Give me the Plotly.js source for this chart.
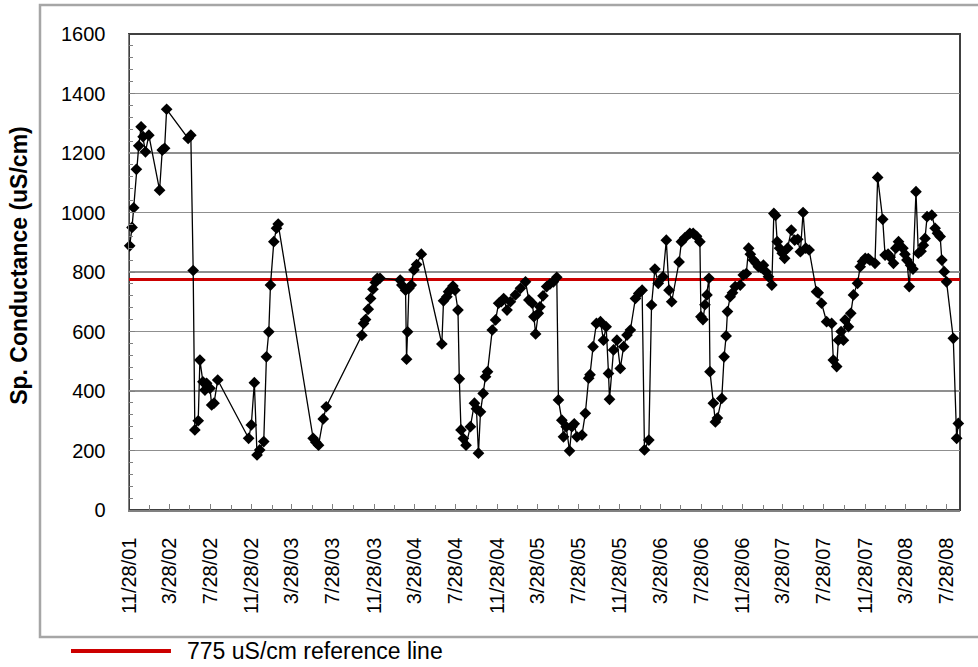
<!DOCTYPE html>
<html>
<head>
<meta charset="utf-8">
<script src="https://cdn.plot.ly/plotly-3.0.1.min.js"></script>
<style>
html,body{margin:0;padding:0;background:#fff;}
#chart{width:978px;height:667px;}
</style>
</head>
<body>
<div id="chart"></div>
<script>
const sampleDates = [
'2001-11-30','2001-12-07','2001-12-12','2001-12-20','2001-12-27','2002-01-03','2002-01-09','2002-01-16','2002-01-26','2002-02-27',
'2002-03-07','2002-03-14','2002-03-20','2002-05-23','2002-05-31','2002-06-07','2002-06-12','2002-06-22','2002-06-27','2002-07-06',
'2002-07-12','2002-07-17','2002-07-27','2002-08-01','2002-08-08','2002-08-19','2002-11-19','2002-11-27','2002-12-06','2002-12-14',
'2002-12-22','2003-01-03','2003-01-11','2003-01-18','2003-01-23','2003-02-02','2003-02-10','2003-02-15','2003-05-30','2003-06-07',
'2003-06-15','2003-06-29','2003-07-08','2003-10-22','2003-10-27','2003-11-02','2003-11-10','2003-11-17','2003-11-24','2003-12-01',
'2003-12-07','2003-12-15','2004-02-13','2004-02-18','2004-02-29','2004-03-03','2004-03-06','2004-03-10','2004-03-17','2004-03-25',
'2004-04-02','2004-04-16','2004-06-16','2004-06-21','2004-07-01','2004-07-06','2004-07-13','2004-07-19','2004-07-25','2004-08-03',
'2004-08-07','2004-08-12','2004-08-19','2004-08-27','2004-09-09','2004-09-21','2004-09-27','2004-10-03','2004-10-09','2004-10-17',
'2004-10-24','2004-10-30','2004-11-13','2004-11-23','2004-12-02','2004-12-10','2004-12-17','2004-12-27','2005-01-06','2005-01-21',
'2005-02-05','2005-02-20','2005-03-02','2005-03-12','2005-03-17','2005-03-22','2005-03-30','2005-04-04','2005-04-13','2005-04-24',
'2005-05-04','2005-05-14','2005-05-24','2005-05-29','2005-06-08','2005-06-13','2005-06-21','2005-07-01','2005-07-08','2005-07-15',
'2005-07-23','2005-08-07','2005-08-17','2005-08-27','2005-08-31','2005-09-09','2005-09-19','2005-10-01','2005-10-10','2005-10-18',
'2005-10-25','2005-10-28','2005-11-09','2005-11-19','2005-11-29','2005-12-09','2005-12-19','2005-12-29','2006-01-13','2006-01-23',
'2006-02-02','2006-02-09','2006-02-22','2006-03-02','2006-03-12','2006-03-22','2006-04-05','2006-04-15','2006-04-23','2006-05-01',
'2006-05-23','2006-05-30','2006-06-09','2006-06-24','2006-07-04','2006-07-14','2006-07-24','2006-07-27','2006-08-02','2006-08-08',
'2006-08-14','2006-08-20','2006-08-23','2006-09-02','2006-09-08','2006-09-14','2006-09-27','2006-10-04','2006-10-10','2006-10-14',
'2006-10-22','2006-10-29','2006-11-06','2006-11-21','2006-11-30','2006-12-09','2006-12-16','2006-12-21','2006-12-30','2007-01-07',
'2007-01-14','2007-01-22','2007-01-29','2007-02-06','2007-02-13','2007-02-23','2007-03-01','2007-03-06','2007-03-11','2007-03-18',
'2007-03-26','2007-04-02','2007-04-11','2007-04-22','2007-05-02','2007-05-11','2007-05-19','2007-05-27','2007-06-04','2007-06-14',
'2007-07-06','2007-07-11','2007-07-21','2007-08-05','2007-08-20','2007-08-25','2007-09-04','2007-09-09','2007-09-17','2007-09-24',
'2007-09-29','2007-10-09','2007-10-16','2007-10-24','2007-11-05','2007-11-13','2007-11-20','2007-11-28','2007-12-07','2007-12-12',
'2007-12-27','2008-01-04','2008-01-19','2008-01-26','2008-02-04','2008-02-10','2008-02-20','2008-02-27','2008-03-06','2008-03-19',
'2008-03-25','2008-03-31','2008-04-07','2008-04-11','2008-04-18','2008-04-27','2008-05-04','2008-05-12','2008-05-19','2008-05-24',
'2008-05-30','2008-06-13','2008-06-23','2008-06-30','2008-07-08','2008-07-13','2008-07-20','2008-07-27','2008-08-16','2008-08-26',
'2008-08-31'
];

const conductance = [
888,950,1016,1145,1224,1288,1255,1204,1260,1075,
1210,1216,1347,1249,1260,805,269,300,504,431,
403,426,409,353,359,437,241,286,428,185,
202,230,515,599,756,902,947,961,241,228,
218,306,347,587,627,640,675,711,742,765,
779,779,773,756,739,507,599,745,756,807,
825,860,558,703,717,734,742,753,739,672,
441,269,240,218,280,359,340,191,330,392,
448,465,605,639,695,700,711,672,700,723,
745,767,706,695,650,592,661,683,720,751,
760,767,782,370,302,246,280,199,280,290,
246,252,325,443,455,549,627,633,571,616,
459,372,538,571,476,549,588,605,711,728,
739,202,235,689,810,762,784,907,739,700,
834,902,915,930,930,920,902,650,640,690,
723,779,465,359,296,309,375,515,585,667,
717,730,751,756,790,795,880,860,840,830,
818,815,823,800,784,756,997,990,902,880,
863,846,880,941,907,910,868,1000,880,874,
734,730,695,633,627,504,482,571,600,571,
639,616,661,723,762,818,835,846,845,840,
829,1118,977,857,860,850,829,880,902,880,
860,840,751,823,810,1070,863,870,890,913,
986,991,947,930,919,840,801,767,577,241,
291
];

const axisStart = '2001-11-28';
const axisEnd = '2008-09-05';
const referenceValue = 775;
const referenceLabel = '775 uS/cm reference line';

const tickDates = ['2001-11-28','2002-03-28','2002-07-28','2002-11-28','2003-03-28','2003-07-28','2003-11-28',
  '2004-03-28','2004-07-28','2004-11-28','2005-03-28','2005-07-28','2005-11-28','2006-03-28','2006-07-28',
  '2006-11-28','2007-03-28','2007-07-28','2007-11-28','2008-03-28','2008-07-28'];
const tickLabels = ['11/28/01','3/28/02','7/28/02','11/28/02','3/28/03','7/28/03','11/28/03',
  '3/28/04','7/28/04','11/28/04','3/28/05','7/28/05','11/28/05','3/28/06','7/28/06',
  '11/28/06','3/28/07','7/28/07','11/28/07','3/28/08','7/28/08'];
const minorTickDates = ['2002-01-28','2002-05-28','2002-09-28','2003-01-28','2003-05-28','2003-09-28',
  '2004-01-28','2004-05-28','2004-09-28','2005-01-28','2005-05-28','2005-09-28','2006-01-28','2006-05-28',
  '2006-09-28','2007-01-28','2007-05-28','2007-09-28','2008-01-28','2008-05-28'];

const yTitle = 'Sp. Conductance (uS/cm)';

const FONT = 'Liberation Sans, Arial, sans-serif';

const traces = [
  {
    x: [axisStart, axisEnd],
    y: [referenceValue, referenceValue],
    type: 'scatter',
    mode: 'lines',
    line: {color: '#CC0000', width: 3},
    name: referenceLabel,
    showlegend: false,
    hoverinfo: 'skip'
  },
  {
    x: sampleDates,
    y: conductance,
    type: 'scatter',
    mode: 'lines+markers',
    line: {color: '#000000', width: 1.3},
    marker: {symbol: 'diamond', size: 9, color: '#000000'},
    cliponaxis: false,
    showlegend: false,
    name: 'Sp. Conductance'
  }
];

const layout = {
  width: 978,
  height: 667,
  margin: {l: 129, r: 18, t: 34, b: 157},
  paper_bgcolor: '#ffffff',
  plot_bgcolor: '#ffffff',
  showlegend: false,
  font: {family: FONT, color: '#000'},
  xaxis: {
    type: 'date',
    range: [axisStart, axisEnd],
    tickmode: 'array',
    tickvals: tickDates,
    ticktext: tickLabels,
    tickangle: -90,
    tickfont: {family: FONT, size: 20, color: '#000'},
    ticks: 'inside',
    ticklen: 6,
    tickcolor: '#808080',
    ticklabelstandoff: 18,
    showgrid: false,
    zeroline: false,
    showline: true,
    linecolor: '#808080',
    linewidth: 1.5,
    minor: {tickmode: 'array', tickvals: minorTickDates, ticks: 'inside', ticklen: 5, tickcolor: '#808080', showgrid: false}
  },
  yaxis: {
    range: [0, 1600],
    dtick: 200,
    tick0: 0,
    tickfont: {family: FONT, size: 20, color: '#000'},
    ticks: 'inside',
    ticklen: 6,
    tickcolor: '#808080',
    ticklabelstandoff: 18,
    showgrid: true,
    gridcolor: '#8f8f8f',
    gridwidth: 1.2,
    zeroline: false,
    showline: true,
    linecolor: '#808080',
    linewidth: 1.5,
    minor: {dtick: 40, ticks: 'inside', ticklen: 4, tickcolor: '#808080', showgrid: false}
  },
  shapes: [
    {type: 'rect', xref: 'paper', yref: 'paper', x0: 0, x1: 1, y0: 0, y1: 1,
     line: {color: '#404040', width: 2}, fillcolor: 'rgba(0,0,0,0)', layer: 'below'},
    {type: 'rect', xref: 'paper', yref: 'paper', x0: -0.1071, x1: 1.04, y0: -0.2668, y1: 1.0609,
     line: {color: '#a6a6a6', width: 2.5}, fillcolor: 'rgba(0,0,0,0)', layer: 'below'},
    {type: 'line', xref: 'paper', yref: 'paper', x0: -0.0698, x1: 0.0505, y0: -0.2962, y1: -0.2962,
     line: {color: '#CC0000', width: 4}}
  ],
  annotations: [
    {text: '<b>' + yTitle + '</b>', xref: 'paper', yref: 'paper', x: -0.1324, y: 0.515,
     textangle: -90, showarrow: false, xanchor: 'center', yanchor: 'middle',
     font: {family: FONT, size: 23, color: '#000'}},
    {text: referenceLabel, xref: 'paper', yref: 'paper', x: 0.0674, y: -0.2962,
     showarrow: false, xanchor: 'left', yanchor: 'middle',
     font: {family: FONT, size: 23, color: '#000'}}
  ]
};

Plotly.newPlot('chart', traces, layout, {displayModeBar: false, staticPlot: true});
</script>
</body>
</html>
